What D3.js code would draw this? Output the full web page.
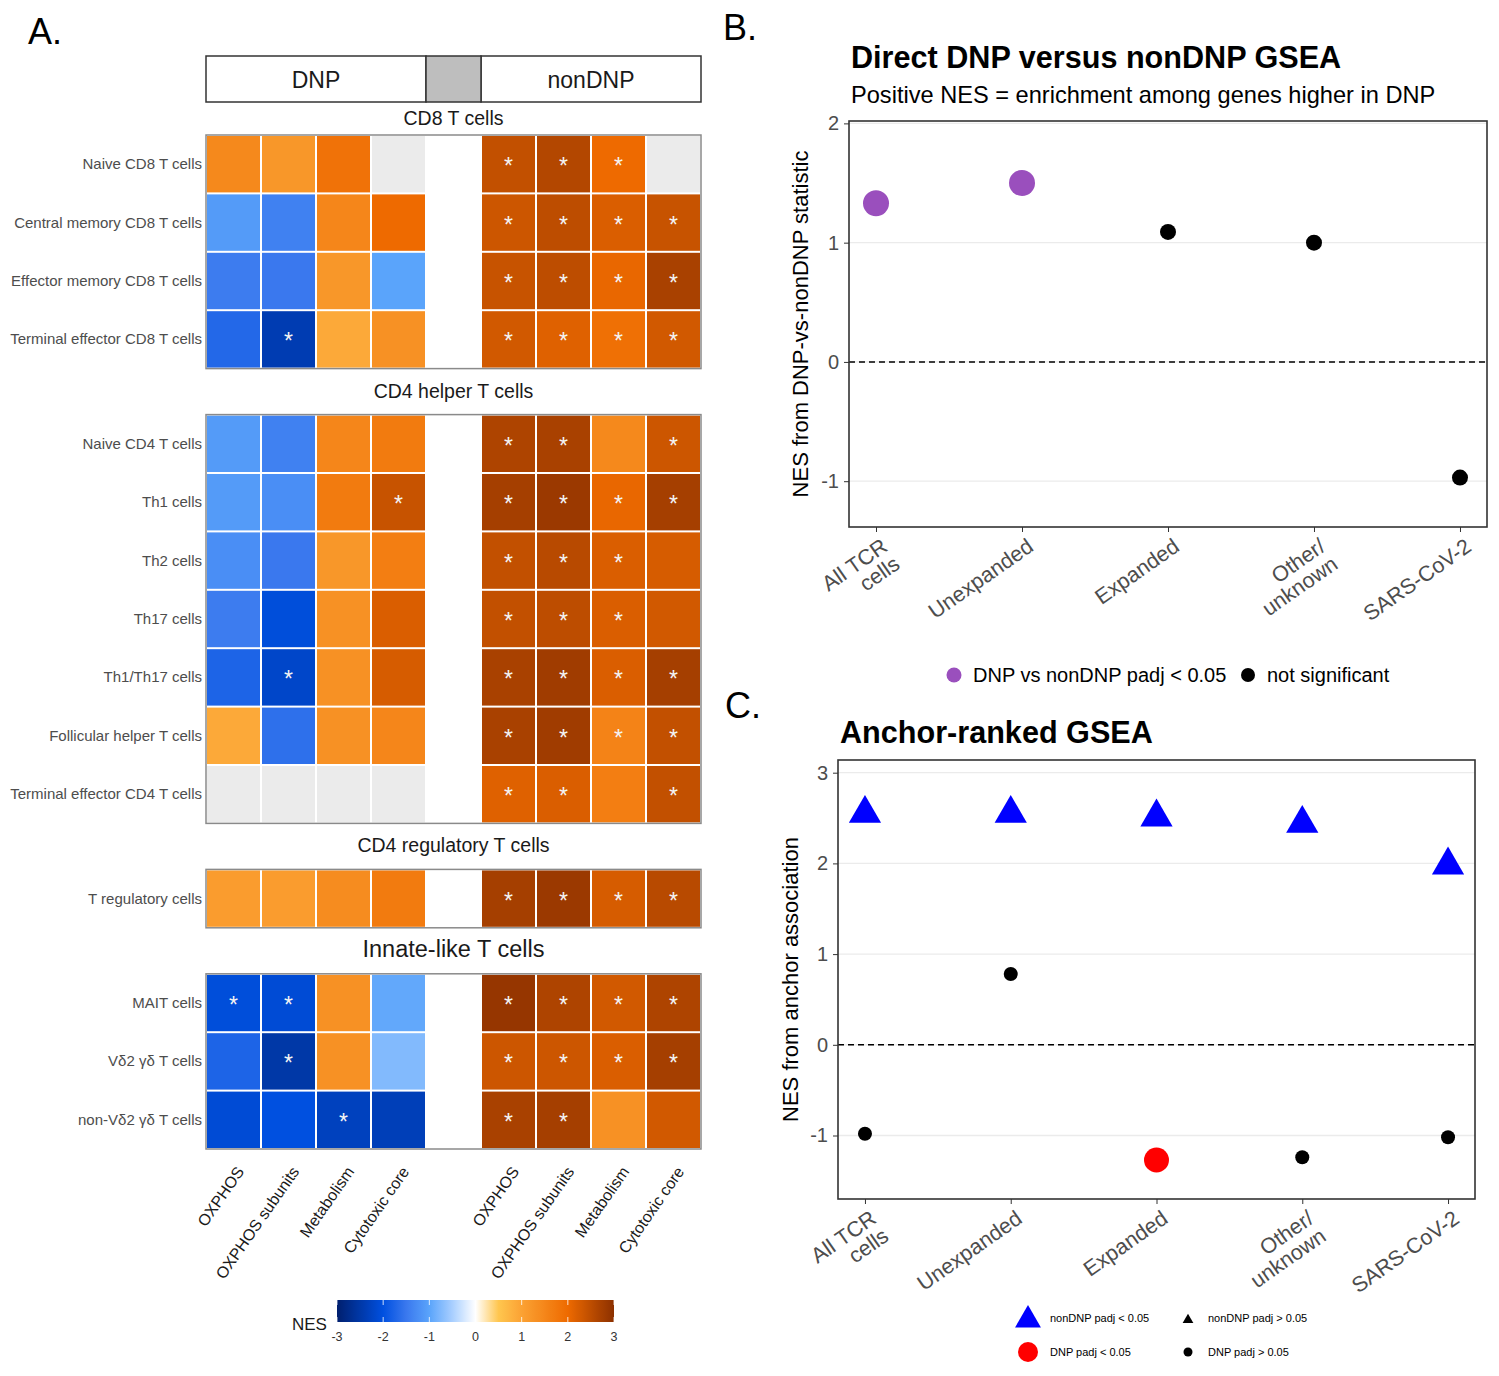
<!DOCTYPE html>
<html>
<head>
<meta charset="utf-8">
<script src="https://cdn.jsdelivr.net/npm/d3@7"></script>
<style>
  body { margin: 0; background: #fff; }
  text { font-family: "Liberation Sans", Arial, sans-serif; }
</style>
</head>
<body>
<svg id="fig" width="1499" height="1376"></svg>
<script>
// ---------- data: panel A heatmap ----------
const geneSets = ["OXPHOS", "OXPHOS subunits", "Metabolism", "Cytotoxic core"];
const groups = ["DNP", "nonDNP"];
const facetNames = ["CD8 T cells", "CD4 helper T cells", "CD4 regulatory T cells", "Innate-like T cells"];
const rowLabels = [
  "Naive CD8 T cells", "Central memory CD8 T cells", "Effector memory CD8 T cells", "Terminal effector CD8 T cells",
  "Naive CD4 T cells", "Th1 cells", "Th2 cells", "Th17 cells", "Th1/Th17 cells", "Follicular helper T cells", "Terminal effector CD4 T cells",
  "T regulatory cells",
  "MAIT cells", "Vδ2 γδ T cells", "non-Vδ2 γδ T cells"
];
const rowFacet = [0, 0, 0, 0, 1, 1, 1, 1, 1, 1, 1, 2, 3, 3, 3];

// NES per row, one value per gene set (null = not tested)
const dnpNES = [
  [1.45, 1.2, 1.85, null],
  [-1.1, -1.4, 1.5, 2.0],
  [-1.45, -1.5, 1.2, -1.0],
  [-1.7, -2.4, 0.9, 1.3],
  [-1.1, -1.4, 1.5, 1.7],
  [-1.1, -1.25, 1.7, 2.4],
  [-1.25, -1.5, 1.2, 1.65],
  [-1.45, -2.05, 1.3, 2.2],
  [-1.75, -2.2, 1.3, 2.25],
  [0.9, -1.6, 1.3, 1.5],
  [null, null, null, null],
  [1.1, 1.1, 1.4, 1.7],
  [-2.05, -2.1, 1.3, -0.95],
  [-1.75, -2.5, 1.3, -0.75],
  [-2.1, -2.0, -2.3, -2.35]
];
const nonDnpNES = [
  [2.45, 2.6, 2.0, null],
  [2.35, 2.5, 2.2, 2.4],
  [2.4, 2.5, 2.05, 2.7],
  [2.3, 2.15, 1.9, 2.3],
  [2.65, 2.7, 1.45, 2.35],
  [2.75, 2.85, 2.05, 2.75],
  [2.45, 2.55, 2.2, 2.25],
  [2.45, 2.5, 2.2, 2.3],
  [2.7, 2.8, 2.2, 2.75],
  [2.7, 2.8, 1.55, 2.45],
  [2.15, 2.2, 1.65, 2.45],
  [2.75, 2.85, 2.25, 2.55],
  [2.9, 2.65, 2.3, 2.65],
  [2.35, 2.35, 2.2, 2.75],
  [2.7, 2.75, 1.3, 2.3]
];
const dnpSig = [
  [0, 0, 0, 0], [0, 0, 0, 0], [0, 0, 0, 0], [0, 1, 0, 0],
  [0, 0, 0, 0], [0, 0, 0, 1], [0, 0, 0, 0], [0, 0, 0, 0], [0, 1, 0, 0], [0, 0, 0, 0], [0, 0, 0, 0],
  [0, 0, 0, 0],
  [1, 1, 0, 0], [0, 1, 0, 0], [0, 0, 1, 0]
];
const nonDnpSig = [
  [1, 1, 1, 0], [1, 1, 1, 1], [1, 1, 1, 1], [1, 1, 1, 1],
  [1, 1, 0, 1], [1, 1, 1, 1], [1, 1, 1, 0], [1, 1, 1, 0], [1, 1, 1, 1], [1, 1, 1, 1], [1, 1, 0, 1],
  [1, 1, 1, 1],
  [1, 1, 1, 1], [1, 1, 1, 1], [1, 1, 0, 0]
];
const nesTicks = [-3, -2, -1, 0, 1, 2, 3];

// ---------- data: panels B and C ----------
const tcrGroups = ["All TCR\ncells", "Unexpanded", "Expanded", "Other/\nunknown", "SARS-CoV-2"];
const directNES = [1.33, 1.50, 1.09, 1.00, -0.97];
const directSig = [true, true, false, false, false];
const anchorNonDnpNES = [2.55, 2.55, 2.51, 2.44, 1.98];
const anchorNonDnpSig = [true, true, true, true, true];
const anchorDnpNES = [-0.98, 0.78, -1.27, -1.24, -1.02];
const anchorDnpSig = [false, false, true, false, false];
const directTicks = [-1, 0, 1, 2];
const anchorTicks = [-1, 0, 1, 2, 3];

// ---------- setup ----------
const svg = d3.select("#fig");
const font = "\"Liberation Sans\", Arial, sans-serif";

const nesColor = d3.scaleLinear()
  .domain([-3, -2, -1.5, -1, -0.5, 0, 0.5, 1, 2, 3])
  .range(["#001f6e", "#0050e0", "#3a78ee", "#5aa4fb", "#a9cfff", "#ffffff", "#ffc64f", "#fba233", "#ee6a00", "#8c3000"])
  .clamp(true);

// panel letters
[["A.", 28, 44], ["B.", 723, 40], ["C.", 725, 718]].forEach(([t, x, y]) => {
  svg.append("text").attr("x", x).attr("y", y).attr("font-size", 36).text(t);
});

// ================= Panel A =================
const slots = [];
geneSets.forEach(g => slots.push("DNP|" + g));
slots.push("gap");
geneSets.forEach(g => slots.push("nonDNP|" + g));

const xA = d3.scaleBand().domain(slots).range([206, 701]);
const bw = xA.bandwidth();
const rowH = 58.4, facetGap = 46, firstTop = 135;

// facet geometry
const facetRows = facetNames.map((f, i) => rowLabels.filter((r, j) => rowFacet[j] === i));
const facetTop = [];
let cursor = firstTop;
facetRows.forEach(rows => { facetTop.push(cursor); cursor += rows.length * rowH + facetGap; });

const gA = svg.append("g");

// header strip
const headerTop = 56, headerH = 46;
groups.forEach((grp, gi) => {
  const x0 = xA(grp + "|" + geneSets[0]);
  const x1 = xA(grp + "|" + geneSets[geneSets.length - 1]) + bw;
  gA.append("rect").attr("x", x0).attr("y", headerTop).attr("width", x1 - x0).attr("height", headerH)
    .attr("fill", "#fff").attr("stroke", "#333").attr("stroke-width", 1.5);
  gA.append("text").attr("x", (x0 + x1) / 2).attr("y", headerTop + 32).attr("text-anchor", "middle")
    .attr("font-size", 23).attr("fill", "#1a1a1a").text(grp);
});
gA.append("rect").attr("x", xA("gap")).attr("y", headerTop).attr("width", bw).attr("height", headerH)
  .attr("fill", "#bebebe").attr("stroke", "#333").attr("stroke-width", 1.5);

facetRows.forEach((rows, fi) => {
  const top = facetTop[fi];
  const yA = d3.scaleBand().domain(rows).range([top, top + rows.length * rowH]);
  const fs = fi === 3 ? 23.5 : 19.5;
  gA.append("text").attr("x", 453.5).attr("y", fi === 0 ? top - 10 : top - 17)
    .attr("text-anchor", "middle").attr("font-size", fs).attr("fill", "#1a1a1a").text(facetNames[fi]);

  rows.forEach(r => {
    const ri = rowLabels.indexOf(r);
    const cells = [];
    geneSets.forEach((g, gi) => {
      cells.push({ slot: "DNP|" + g, v: dnpNES[ri][gi], sig: dnpSig[ri][gi] });
      cells.push({ slot: "nonDNP|" + g, v: nonDnpNES[ri][gi], sig: nonDnpSig[ri][gi] });
    });
    gA.selectAll(null).data(cells).enter().append("rect")
      .attr("x", d => xA(d.slot) + 1)
      .attr("y", yA(r) + 1)
      .attr("width", bw - 2)
      .attr("height", yA.bandwidth() - 2)
      .attr("fill", d => d.v === null ? "#ebebeb" : nesColor(d.v));
    gA.selectAll(null).data(cells.filter(d => d.sig && d.v !== null)).enter().append("text")
      .attr("x", d => xA(d.slot) + bw / 2)
      .attr("y", yA(r) + yA.bandwidth() / 2 + 10)
      .attr("text-anchor", "middle").attr("font-size", 23).attr("fill", "#f4f4f4").text("*");
    gA.append("text").attr("x", 202).attr("y", yA(r) + yA.bandwidth() / 2 + 5)
      .attr("text-anchor", "end").attr("font-size", 15).attr("fill", "#4d4d4d").text(r);
  });

  gA.append("rect").attr("x", 206).attr("y", top).attr("width", 495).attr("height", rows.length * rowH)
    .attr("fill", "none").attr("stroke", "#8a8a8a").attr("stroke-width", 1.5);
});

// column labels
const bottomA = facetTop[3] + facetRows[3].length * rowH;
slots.filter(s => s !== "gap").forEach(s => {
  const cx = xA(s) + bw / 2 + 2;
  gA.append("text")
    .attr("transform", `translate(${cx},${bottomA + 16}) rotate(-55)`)
    .attr("text-anchor", "end").attr("dy", "0.72em")
    .attr("font-size", 16).attr("fill", "#1a1a1a").text(s.split("|")[1]);
});

// colour bar legend
const cbX = d3.scaleLinear().domain([-3, 3]).range([337, 614]);
const grad = svg.append("defs").append("linearGradient").attr("id", "nesgrad");
d3.range(0, 61).forEach(i => {
  const v = -3 + i * 0.1;
  grad.append("stop").attr("offset", (i / 60 * 100) + "%").attr("stop-color", nesColor(v));
});
const cbTop = 1300, cbH = 22;
svg.append("rect").attr("x", cbX(-3)).attr("y", cbTop).attr("width", cbX(3) - cbX(-3)).attr("height", cbH)
  .attr("fill", "url(#nesgrad)");
nesTicks.forEach(t => {
  svg.append("line").attr("x1", cbX(t)).attr("x2", cbX(t)).attr("y1", cbTop).attr("y2", cbTop + 5)
    .attr("stroke", "#fff").attr("stroke-opacity", 0.8);
  svg.append("line").attr("x1", cbX(t)).attr("x2", cbX(t)).attr("y1", cbTop + cbH - 5).attr("y2", cbTop + cbH)
    .attr("stroke", "#fff").attr("stroke-opacity", 0.8);
  svg.append("text").attr("x", cbX(t)).attr("y", cbTop + cbH + 19).attr("text-anchor", "middle")
    .attr("font-size", 12.5).attr("fill", "#333").text(String(t));
});
svg.append("text").attr("x", 292).attr("y", 1330).attr("font-size", 17).attr("fill", "#1a1a1a").text("NES");

// ================= helpers for dot plots =================
function drawFrame(g, x, y, ticks, box, yTitle, yTitleX) {
  // grid
  g.selectAll(null).data(ticks).enter().append("line")
    .attr("x1", box.l).attr("x2", box.r).attr("y1", d => y(d)).attr("y2", d => y(d))
    .attr("stroke", "#ebebeb").attr("stroke-width", 1.3);
  // zero line
  g.append("line").attr("x1", box.l).attr("x2", box.r).attr("y1", y(0)).attr("y2", y(0))
    .attr("stroke", "#000").attr("stroke-width", 1.5).attr("stroke-dasharray", "6,4");
  // axes
  const ay = g.append("g").attr("transform", `translate(${box.l},0)`)
    .call(d3.axisLeft(y).tickValues(ticks).tickSize(5).tickPadding(5).tickFormat(d => String(d)));
  ay.select(".domain").remove();
  ay.selectAll("line").attr("stroke", "#333");
  ay.selectAll("text").attr("font-size", 20).attr("fill", "#4d4d4d").attr("font-family", font);

  const ax = g.append("g").attr("transform", `translate(0,${box.b})`)
    .call(d3.axisBottom(x).tickSize(5).tickFormat(""));
  ax.select(".domain").remove();
  ax.selectAll("line").attr("stroke", "#333");
  tcrGroups.forEach(c => {
    const t = g.append("text")
      .attr("transform", `translate(${x(c) + 4},${box.b + 10}) rotate(-35)`)
      .attr("text-anchor", "end").attr("font-size", 21.5).attr("fill", "#4d4d4d");
    c.split("\n").forEach((line, i) => {
      t.append("tspan").attr("x", 0).attr("dy", i === 0 ? "0.72em" : "1.0em").text(line);
    });
  });
  // border
  g.append("rect").attr("x", box.l).attr("y", box.t).attr("width", box.r - box.l).attr("height", box.b - box.t)
    .attr("fill", "none").attr("stroke", "#333").attr("stroke-width", 1.6);
  // y title
  g.append("text").attr("transform", `translate(${yTitleX},${(box.t + box.b) / 2}) rotate(-90)`)
    .attr("text-anchor", "middle").attr("font-size", 22).attr("fill", "#000").text(yTitle);
}

// ================= Panel B =================
const boxB = { l: 849, r: 1487, t: 121, b: 527 };
const xB = d3.scalePoint().domain(tcrGroups).range([boxB.l, boxB.r]).padding(0.185);
const yB = d3.scaleLinear().domain([-1.384, 2.02]).range([boxB.b, boxB.t]);
const gB = svg.append("g");
gB.append("text").attr("x", 851).attr("y", 68).attr("font-size", 30.6).attr("font-weight", "bold")
  .text("Direct DNP versus nonDNP GSEA");
gB.append("text").attr("x", 851).attr("y", 103).attr("font-size", 23.6)
  .text("Positive NES = enrichment among genes higher in DNP");
drawFrame(gB, xB, yB, directTicks, boxB, "NES from DNP-vs-nonDNP statistic", 808);

gB.selectAll(null).data(tcrGroups).enter().append("circle")
  .attr("cx", d => xB(d))
  .attr("cy", (d, i) => yB(directNES[i]))
  .attr("r", (d, i) => directSig[i] ? 13 : 8)
  .attr("fill", (d, i) => directSig[i] ? "#9a4fbd" : "#000");

// legend B
gB.append("circle").attr("cx", 954).attr("cy", 675).attr("r", 7.5).attr("fill", "#9a4fbd");
gB.append("text").attr("x", 973).attr("y", 682).attr("font-size", 20).text("DNP vs nonDNP padj < 0.05");
gB.append("circle").attr("cx", 1248).attr("cy", 675).attr("r", 7).attr("fill", "#000");
gB.append("text").attr("x", 1267).attr("y", 682).attr("font-size", 20).text("not significant");

// ================= Panel C =================
const boxC = { l: 838, r: 1475, t: 760, b: 1199 };
const xC = d3.scalePoint().domain(tcrGroups).range([boxC.l, boxC.r]).padding(0.185);
const yC = d3.scaleLinear().domain([-1.70, 3.14]).range([boxC.b, boxC.t]);
const gC = svg.append("g");
gC.append("text").attr("x", 840).attr("y", 743).attr("font-size", 30.6).attr("font-weight", "bold")
  .text("Anchor-ranked GSEA");
drawFrame(gC, xC, yC, anchorTicks, boxC, "NES from anchor association", 798);

const tri = d3.symbol().type(d3.symbolTriangle);
gC.selectAll(null).data(tcrGroups).enter().append("path")
  .attr("transform", (d, i) => `translate(${xC(d)},${yC(anchorNonDnpNES[i])})`)
  .attr("d", (d, i) => tri.size(anchorNonDnpSig[i] ? 450 : 70)())
  .attr("fill", (d, i) => anchorNonDnpSig[i] ? "#0000ff" : "#000");
gC.selectAll(null).data(tcrGroups).enter().append("circle")
  .attr("cx", d => xC(d))
  .attr("cy", (d, i) => yC(anchorDnpNES[i]))
  .attr("r", (d, i) => anchorDnpSig[i] ? 12.5 : 7)
  .attr("fill", (d, i) => anchorDnpSig[i] ? "#ff0000" : "#000");

// legend C
const legC = gC.append("g").attr("font-size", 11);
legC.append("path").attr("transform", "translate(1028,1320)").attr("d", tri.size(290)()).attr("fill", "#0000ff");
legC.append("text").attr("x", 1050).attr("y", 1322).text("nonDNP padj < 0.05");
legC.append("path").attr("transform", "translate(1188,1320)").attr("d", tri.size(50)()).attr("fill", "#000");
legC.append("text").attr("x", 1208).attr("y", 1322).text("nonDNP padj > 0.05");
legC.append("circle").attr("cx", 1028).attr("cy", 1352).attr("r", 10).attr("fill", "#ff0000");
legC.append("text").attr("x", 1050).attr("y", 1356).text("DNP padj < 0.05");
legC.append("circle").attr("cx", 1188).attr("cy", 1352).attr("r", 4.5).attr("fill", "#000");
legC.append("text").attr("x", 1208).attr("y", 1356).text("DNP padj > 0.05");
</script>
</body>
</html>
